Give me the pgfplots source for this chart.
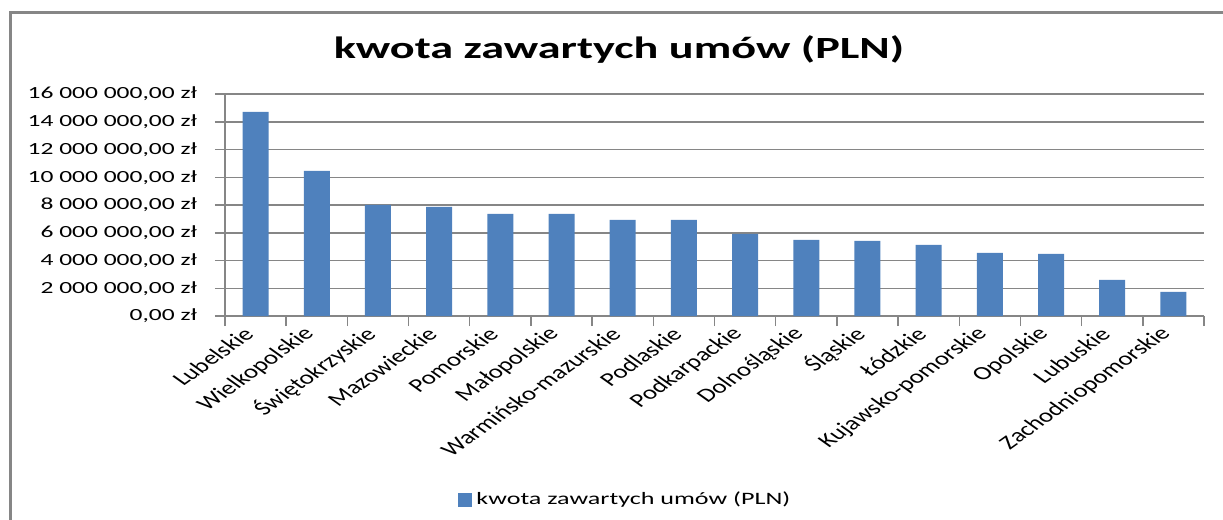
\documentclass[border=0pt]{standalone}
\usepackage{pgfplots}
\pgfplotsset{compat=1.18}
\usepackage{fontspec}
\setmainfont{Carlito}[FakeStretch=1.5]
\newfontfamily\plainfont{Carlito}
\definecolor{barblue}{HTML}{4F81BD}
\definecolor{axgray}{HTML}{868686}
\begin{document}
\begin{tikzpicture}
\useasboundingbox (0,0) rectangle (611.5pt,260pt);
\draw[axgray, line width=1.5pt] (5pt,0) -- (5pt,253.5pt) -- (611.5pt,253.5pt);
\node[anchor=base, font=\fontsize{15.4}{18}\selectfont\bfseries] at (309.5pt,230.5pt) {kwota zawartych umów (PLN)};
\begin{axis}[
  at={(112.5pt,102pt)}, anchor=south west,
  scale only axis, width=489.5pt, height=111pt,
  xmin=-0.5, xmax=15.5, ymin=0, ymax=16000000,
  axis x line=bottom, axis y line=left,
  axis line style={-, axgray, line width=0.75pt},
  ybar, bar width=13pt,
  scaled y ticks=false,
  ytick={0,2000000,4000000,6000000,8000000,10000000,12000000,14000000,16000000},
  yticklabels={{0,00 zł},{2 000 000,00 zł},{4 000 000,00 zł},{6 000 000,00 zł},{8 000 000,00 zł},{10 000 000,00 zł},{12 000 000,00 zł},{14 000 000,00 zł},{16 000 000,00 zł}},
  ymajorgrids, grid style={axgray, line width=0.75pt},
  tick align=outside,
  major tick length=5pt,
  tick style={axgray, line width=0.75pt},
  xtick={-0.5,0.5,1.5,2.5,3.5,4.5,5.5,6.5,7.5,8.5,9.5,10.5,11.5,12.5,13.5,14.5,15.5},
  x tick label as interval,
  xticklabels={Lubelskie,Wielkopolskie,Świętokrzyskie,Mazowieckie,Pomorskie,Małopolskie,Warmińsko-mazurskie,Podlaskie,Podkarpackie,Dolnośląskie,Śląskie,Łódzkie,Kujawsko-pomorskie,Opolskie,Lubuskie,Zachodniopomorskie},
  xticklabel style={font=\plainfont\fontsize{9.6}{11}\selectfont, xscale=1.4, rotate=45, anchor=east, text=black},
  yticklabel style={font=\fontsize{8.5}{10}\selectfont, text=black, xshift=-5.5pt},
  /pgf/number format/assume math mode=true,
  legend style={at={(0.41,-0.829)}, anchor=center, draw=none, fill=none, font=\fontsize{8.7}{10}\selectfont},
  legend image code/.code={\fill[barblue] (0pt,-3.5pt) rectangle (7pt,3.5pt);},
]
\addplot[fill=barblue, draw=none] coordinates {
  (0,14720000) (1,10460000) (2,8010000) (3,7860000) (4,7360000) (5,7360000)
  (6,6930000) (7,6930000) (8,5920000) (9,5480000) (10,5410000) (11,5120000)
  (12,4550000) (13,4470000) (14,2600000) (15,1730000)
};
\addlegendentry{kwota zawartych umów (PLN)}
\end{axis}
\end{tikzpicture}
\end{document}
